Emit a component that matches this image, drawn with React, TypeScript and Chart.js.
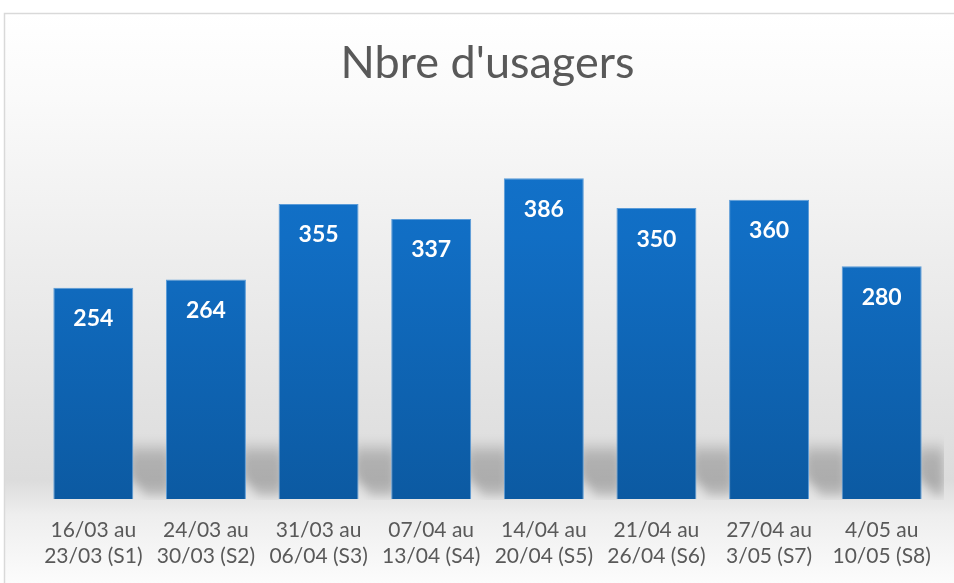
import React, { useEffect, useRef } from "react";
import { Chart, registerables } from "chart.js";

Chart.register(...registerables);

const TITLE = "Nbre d'usagers";
const CATEGORIES: string[][] = [
  ["16/03 au", "23/03 (S1)"],
  ["24/03 au", "30/03 (S2)"],
  ["31/03 au", "06/04 (S3)"],
  ["07/04 au", "13/04 (S4)"],
  ["14/04 au", "20/04 (S5)"],
  ["21/04 au", "26/04 (S6)"],
  ["27/04 au", "3/05 (S7)"],
  ["4/05 au", "10/05 (S8)"],
];
const USAGERS: number[] = [254, 264, 355, 337, 386, 350, 360, 280];
const Y_MAX = 450;

const FONT = "Lato, 'Open Sans', sans-serif";

const backgroundPlugin = {
  id: "bgFrame",
  beforeDraw(chart: any) {
    const { ctx, width, height } = chart;
    ctx.save();
    ctx.fillStyle = "#ffffff";
    ctx.fillRect(0, 0, width, height);
    const g = ctx.createLinearGradient(0, 13, 0, height);
    g.addColorStop(0, "#ffffff");
    g.addColorStop(0.15, "#fafafa");
    g.addColorStop(0.55, "#e8e8e8");
    g.addColorStop(0.82, "#dcdcdc");
    g.addColorStop(0.88, "#eeeeee");
    g.addColorStop(1, "#fcfcfc");
    ctx.fillStyle = g;
    ctx.fillRect(4, 13, width, height);
    ctx.strokeStyle = "#d9d9d9";
    ctx.lineWidth = 1.5;
    ctx.strokeRect(4.5, 13.5, width + 10, height + 10);
    ctx.restore();
  },
  beforeDatasetsDraw(chart: any) {
    const { ctx, chartArea } = chart;
    const meta = chart.getDatasetMeta(0);
    const bars = meta.data as any[];
    ctx.save();
    ctx.beginPath();
    ctx.rect(chartArea.left, chartArea.top, chartArea.right - chartArea.left + 6, chartArea.bottom - chartArea.top + 1);
    ctx.clip();
    ctx.filter = "blur(5px)";
    bars.forEach((bar: any, i: number) => {
      const right = bar.x + bar.width / 2;
      const nextLeft = i < bars.length - 1 ? bars[i + 1].x - bars[i + 1].width / 2 : right + 18;
      const base = bar.base;
      const g = ctx.createLinearGradient(0, base - 60, 0, base);
      g.addColorStop(0, "rgba(0,0,0,0.0)");
      g.addColorStop(0.3, "rgba(0,0,0,0.2)");
      g.addColorStop(0.7, "rgba(0,0,0,0.22)");
      g.addColorStop(1, "rgba(0,0,0,0.14)");
      ctx.fillStyle = g;
      ctx.beginPath();
      ctx.moveTo(right - 4, base - 58);
      ctx.lineTo(nextLeft + 4, base - 58);
      ctx.lineTo(nextLeft + 4, base - 3);
      ctx.lineTo(right + 12, base - 3);
      ctx.lineTo(right - 4, base - 24);
      ctx.closePath();
      ctx.fill();
    });
    ctx.restore();
  },
};

const valueLabelPlugin = {
  id: "valueLabels",
  afterDatasetsDraw(chart: any) {
    const { ctx } = chart;
    const meta = chart.getDatasetMeta(0);
    const data = chart.data.datasets[0].data as number[];
    ctx.save();
    ctx.fillStyle = "#ffffff";
    ctx.font = `bold 23px ${FONT}`;
    ctx.textAlign = "center";
    ctx.textBaseline = "middle";
    meta.data.forEach((bar: any, i: number) => {
      ctx.fillText(String(data[i]), bar.x, bar.y + 31);
    });
    ctx.restore();
  },
};

export default function App() {
  const canvasRef = useRef<HTMLCanvasElement | null>(null);

  useEffect(() => {
    if (!canvasRef.current) return;
    const chart = new Chart(canvasRef.current, {
      type: "bar",
      data: {
        labels: CATEGORIES,
        datasets: [
          {
            label: TITLE,
            data: USAGERS,
            backgroundColor: (c: any) => {
              const { chart } = c;
              const area = chart.chartArea;
              if (!area) return "#0f66b8";
              const g = chart.ctx.createLinearGradient(0, area.top, 0, area.bottom);
              g.addColorStop(0, "#1273cc");
              g.addColorStop(0.3, "#116ec4");
              g.addColorStop(1, "#0c5aa2");
              return g;
            },
            borderColor: "#5a9bd8",
            borderWidth: 1,
            barPercentage: 0.71,
            categoryPercentage: 1,
          },
        ],
      },
      options: {
        animation: false,
        responsive: true,
        maintainAspectRatio: false,
        layout: { padding: { left: 37, right: 16, top: 0, bottom: -4 } },
        plugins: {
          legend: { display: false },
          tooltip: { enabled: false },
          title: {
            display: true,
            text: TITLE,
            color: "#595959",
            font: { family: FONT, size: 45, weight: "normal" as any, lineHeight: 1.2 },
            padding: { top: 36, bottom: 35 },
          },
        },
        scales: {
          x: {
            grid: { display: false, drawTicks: false },
            border: { display: false },
            ticks: {
              color: "#595959",
              font: { family: FONT, size: 21, lineHeight: 1.24 },
              padding: 18,
              maxRotation: 0,
              autoSkip: false,
            },
          },
          y: {
            display: false,
            min: 0,
            max: Y_MAX,
          },
        },
      },
      plugins: [backgroundPlugin, valueLabelPlugin],
    });
    return () => chart.destroy();
  }, []);

  return (
    <div style={{ position: "fixed", left: 0, top: 0, width: 954, height: 583 }}>
      <canvas ref={canvasRef} />
    </div>
  );
}
